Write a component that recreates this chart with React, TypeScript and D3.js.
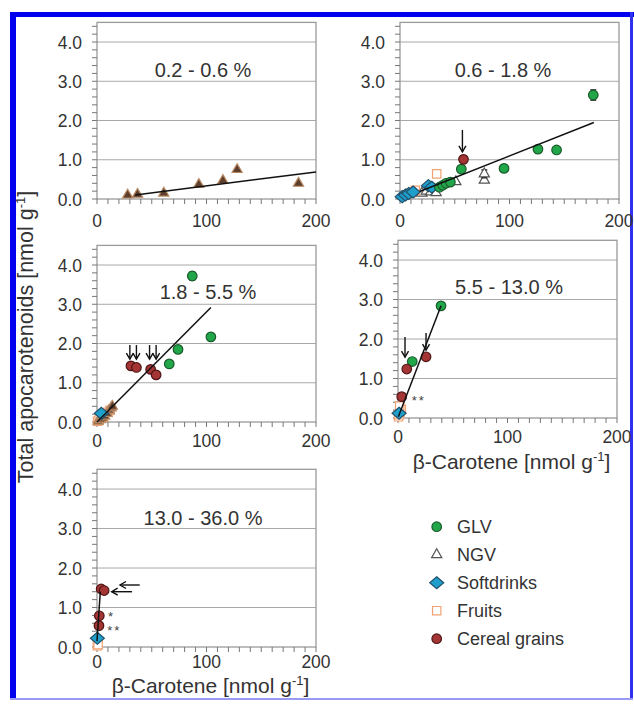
import React from "react";
import * as d3 from "d3";

type Pt = [number, number, number?];

// panel labels and axis ticks
const panelTitles = ["0.2 - 0.6 %", "0.6 - 1.8 %", "1.8 - 5.5 %", "5.5 - 13.0 %", "13.0 - 36.0 %"];
const xTicks = [0, 100, 200];
const yTicks = [0, 1, 2, 3, 4];
const categories = ["GLV", "NGV", "Softdrinks", "Fruits", "Cereal grains"];

// [beta-carotene, apocarotenoids, error]
const p1Ngv: Pt[] = [[28, 0.1], [37, 0.12], [61, 0.15], [93, 0.37], [115, 0.47], [128, 0.75], [184, 0.4]];
const p1Fit: [number, number][] = [[35, 0.1], [200, 0.69]];

const p2Glv: Pt[] = [[36, 0.3], [39, 0.35], [42, 0.4], [46, 0.43], [56, 0.76], [95, 0.78], [126, 1.27], [143, 1.25], [176.5, 2.65, 0.13]];
const p2Ngv: Pt[] = [[20, 0.15], [24, 0.2], [28, 0.18], [33, 0.16], [51, 0.44], [77, 0.48], [77, 0.64, 0.1]];
const p2Soft: Pt[] = [[2, 0.06], [5, 0.1], [8, 0.14], [12, 0.18], [26, 0.34], [29, 0.3]];
const p2Fruit: Pt[] = [[10, 0.16], [14, 0.22], [33.5, 0.64]];
const p2Cereal: Pt[] = [[58, 1.01]];
const p2Fit: [number, number][] = [[18, 0.19], [177, 1.95]];

const p3Glv: Pt[] = [[87, 3.72, 0.1], [104, 2.17], [74, 1.85], [66, 1.48, 0.08]];
const p3Ngv: Pt[] = [[1, 0.02], [3, 0.06], [5, 0.1], [7, 0.15], [9, 0.22], [11, 0.3], [13, 0.36], [14, 0.4]];
const p3Soft: Pt[] = [[4, 0.22]];
const p3Fruit: Pt[] = [[0.5, 0.02], [2, 0.05], [6, 0.12], [10, 0.25], [12, 0.3]];
const p3Cereal: Pt[] = [[31, 1.43], [36, 1.39], [49, 1.34], [54, 1.2]];
const p3Fit: [number, number][] = [[0, 0], [104, 2.92]];

const p4Glv: Pt[] = [[39.3, 2.84], [13, 1.43, 0.07]];
const p4Soft: Pt[] = [[1, 0.12]];
const p4Fruit: Pt[] = [[0.5, 0.03], [1, 0.08], [2, 0.15], [3, 0.22], [1.5, 0.3]];
const p4Cereal: Pt[] = [[25.6, 1.55], [8, 1.24], [3.4, 0.54]];
const p4Fit: [number, number][] = [[0.3, 0.03], [39.3, 2.84]];

const p5Soft: Pt[] = [[0.3, 0.22]];
const p5Fruit: Pt[] = [[0.3, 0.03], [1, 0.06]];
const p5Cereal: Pt[] = [[3.8, 1.47], [6.5, 1.43], [2.1, 0.79], [1.8, 0.54]];
const p5Fit: [number, number][] = [[0, 0.15], [3, 1.4]];

// annotations, data units
const p2Down = [[57, 1.76, 1.2]];
const p3Down = [[30, 1.96, 1.6], [36, 1.96, 1.6], [48, 1.96, 1.6], [54, 1.96, 1.6]];
const p4Down = [[6.4, 2.05, 1.54], [25.6, 2.15, 1.72]];
const p5Left = [[39, 21, 1.57], [32, 13.4, 1.4]];
const p4Stars = [{ x: 12.5, y: 0.53, t: "**" }];
const p5Stars = [{ x: 10, y: 0.85, t: "*" }, { x: 9.4, y: 0.5, t: "**" }];

const FONT = "'Liberation Sans', Arial, sans-serif";
const TXT = "#333";

const styles: any = {
  GLV: { shape: d3.symbolCircle, size: 72, fill: "#22a64a", stroke: "#1a5c2c" },
  NGV: { shape: d3.symbolTriangle, size: 45, fill: "#fff", stroke: "#555" },
  Softdrinks: { shape: null, fill: "#1f9fcc", stroke: "#22506a" },
  Fruits: { shape: d3.symbolSquare, size: 70, fill: "#fff", stroke: "#f2a272" },
  "Cereal grains": { shape: d3.symbolCircle, size: 72, fill: "#a53434", stroke: "#4e1616" },
};

function Marker({ cat, x, y, dark }: { cat: string; x: number; y: number; dark?: boolean }) {
  const s = styles[cat];
  const d = s.shape ? (d3.symbol(s.shape, s.size)() as string) : "M0,-6L7,0L0,6L-7,0Z";
  const fill = dark ? "#5e3e2c" : s.fill;
  const stroke = dark ? "#b88a64" : s.stroke;
  return <path d={d} transform={`translate(${x},${y})`} fill={fill} stroke={stroke} strokeWidth={1.2} />;
}

function Panel(props: any) {
  const { box, title, titleAt, series, fit, down = [], left = [], stars = [], xTitleY, tickDy } = props;
  const x = d3.scaleLinear().domain([0, 200]).range([box.x0, box.x1]);
  const y = d3.scaleLinear().domain([0, 4.5]).range([box.bottom, box.top]);
  const minorY = d3.range(0, 4.51, 0.2);
  const minorX = d3.range(0, 201, 10);
  const line = d3.line<[number, number]>().x((d) => x(d[0])).y((d) => y(d[1]));
  return (
    <g>
      {yTicks.slice(1).map((t) => (
        <line key={t} x1={box.x0} x2={box.x1} y1={y(t)} y2={y(t)} stroke="#a8a8a8" strokeWidth={1} />
      ))}
      <rect x={box.x0} y={box.top} width={box.x1 - box.x0} height={box.bottom - box.top} fill="none" stroke="#9a9a9a" strokeWidth={1.3} />
      {minorY.map((t) => (
        <line key={t} x1={box.x0 - 5} x2={box.x0} y1={y(t)} y2={y(t)} stroke="#777" strokeWidth={1} />
      ))}
      {minorX.map((t) => (
        <line key={t} x1={x(t)} x2={x(t)} y1={box.bottom} y2={box.bottom + 5} stroke="#777" strokeWidth={1} />
      ))}
      {yTicks.map((t) => (
        <text key={t} x={box.x0 - 15} y={y(t) + 6.5} textAnchor="end" fontSize={17.5} fontFamily={FONT} fill={TXT}>
          {t.toFixed(1)}
        </text>
      ))}
      {xTicks.map((t) => (
        <text key={t} x={x(t)} y={box.bottom + tickDy} textAnchor="middle" fontSize={17.5} fontFamily={FONT} fill={TXT}>
          {t}
        </text>
      ))}
      <text x={titleAt[0]} y={titleAt[1]} textAnchor="middle" fontSize={20} fontFamily={FONT} fill={TXT}>
        {title}
      </text>
      {series.map((s: any) =>
        s.pts.map((p: Pt, i: number) => (
          <g key={s.cat + i}>
            {p[2] ? (
              <g stroke="#111" strokeWidth={1.3}>
                <line x1={x(p[0])} x2={x(p[0])} y1={y(p[1] - p[2])} y2={y(p[1] + p[2])} />
                <line x1={x(p[0]) - 3} x2={x(p[0]) + 3} y1={y(p[1] + p[2])} y2={y(p[1] + p[2])} />
                <line x1={x(p[0]) - 3} x2={x(p[0]) + 3} y1={y(p[1] - p[2])} y2={y(p[1] - p[2])} />
              </g>
            ) : null}
            <Marker cat={s.cat} x={x(p[0])} y={y(p[1])} dark={s.dark} />
          </g>
        ))
      )}
      <path d={line(fit) as string} fill="none" stroke="#111" strokeWidth={1.5} />
      {down.map((a: number[], i: number) => (
        <g key={"d" + i} stroke="#111" strokeWidth={1.4} fill="none">
          <line x1={x(a[0])} x2={x(a[0])} y1={y(a[1])} y2={y(a[2])} />
          <path d={`M${x(a[0]) - 3.5},${y(a[2]) - 6}L${x(a[0])},${y(a[2])}L${x(a[0]) + 3.5},${y(a[2]) - 6}`} />
        </g>
      ))}
      {left.map((a: number[], i: number) => (
        <g key={"l" + i} stroke="#111" strokeWidth={1.4} fill="none">
          <line x1={x(a[0])} x2={x(a[1])} y1={y(a[2])} y2={y(a[2])} />
          <path d={`M${x(a[1]) + 6},${y(a[2]) - 3.5}L${x(a[1])},${y(a[2])}L${x(a[1]) + 6},${y(a[2]) + 3.5}`} />
        </g>
      ))}
      {stars.map((s: any, i: number) => (
        <text key={"s" + i} x={x(s.x)} y={y(s.y) + 8} fontSize={13} fontFamily={FONT} fill="#444" letterSpacing={2}>
          {s.t}
        </text>
      ))}
      {xTitleY ? (
        <text x={(box.x0 + box.x1) / 2 + 4} y={xTitleY} textAnchor="middle" fontSize={21} fontFamily={FONT} fill={TXT}>
          β-Carotene [nmol g
          <tspan fontSize={13} dy={-8}>-1</tspan>
          <tspan dy={8}>]</tspan>
        </text>
      ) : null}
    </g>
  );
}

export default function App() {
  const panels = [
    { box: { x0: 97, x1: 316, top: 22.4, bottom: 199 }, titleAt: [203, 77], tickDy: 28, series: [{ cat: "NGV", pts: p1Ngv, dark: true }], fit: p1Fit },
    {
      box: { x0: 400, x1: 619, top: 22.4, bottom: 199 }, titleAt: [503, 77], tickDy: 28,
      series: [{ cat: "NGV", pts: p2Ngv }, { cat: "Fruits", pts: p2Fruit }, { cat: "Softdrinks", pts: p2Soft }, { cat: "GLV", pts: p2Glv }, { cat: "Cereal grains", pts: p2Cereal }],
      fit: p2Fit, down: p2Down,
    },
    {
      box: { x0: 97, x1: 316, top: 245.4, bottom: 422 }, titleAt: [208, 299], tickDy: 25,
      series: [{ cat: "Fruits", pts: p3Fruit }, { cat: "NGV", pts: p3Ngv, dark: true }, { cat: "Softdrinks", pts: p3Soft }, { cat: "GLV", pts: p3Glv }, { cat: "Cereal grains", pts: p3Cereal }],
      fit: p3Fit, down: p3Down,
    },
    {
      box: { x0: 398, x1: 617, top: 240.3, bottom: 418 }, titleAt: [509, 294], tickDy: 24.5,
      series: [{ cat: "Fruits", pts: p4Fruit }, { cat: "Softdrinks", pts: p4Soft }, { cat: "GLV", pts: p4Glv }, { cat: "Cereal grains", pts: p4Cereal }],
      fit: p4Fit, down: p4Down, stars: p4Stars, xTitleY: 469,
    },
    {
      box: { x0: 97, x1: 316, top: 469.3, bottom: 647 }, titleAt: [203, 525], tickDy: 21,
      series: [{ cat: "Fruits", pts: p5Fruit }, { cat: "Softdrinks", pts: p5Soft }, { cat: "Cereal grains", pts: p5Cereal }],
      fit: p5Fit, left: p5Left, stars: p5Stars, xTitleY: 693,
    },
  ];
  return (
    <div style={{ position: "absolute", left: 0, top: 0 }}>
      <svg width={634} height={709} style={{ display: "block", background: "#fff" }}>
        <rect x={10} y={12} width={624} height={5} fill="#0000ee" />
        <rect x={10} y={12} width={6} height={688} fill="#0000ee" />
        <rect x={630} y={12} width={3} height={688} fill="#3030f0" />
        <rect x={10} y={698} width={623} height={2} fill="#9a9af5" />
        {panels.map((p, i) => (
          <Panel key={i} {...p} title={panelTitles[i]} />
        ))}
        <text transform="translate(32.5,337) rotate(-90)" textAnchor="middle" fontSize={21.5} fontFamily={FONT} fill={TXT}>
          Total apocarotenoids [nmol g
          <tspan fontSize={13} dy={-8}>-1</tspan>
          <tspan dy={8}>]</tspan>
        </text>
        {categories.map((c, i) => {
          const ly = 526.7 + i * 28;
          return (
            <g key={c}>
              <Marker cat={c} x={436.7} y={ly} />
              <text x={457} y={ly + 6.5} fontSize={18} fontFamily={FONT} fill={TXT}>
                {c}
              </text>
            </g>
          );
        })}
      </svg>
    </div>
  );
}
